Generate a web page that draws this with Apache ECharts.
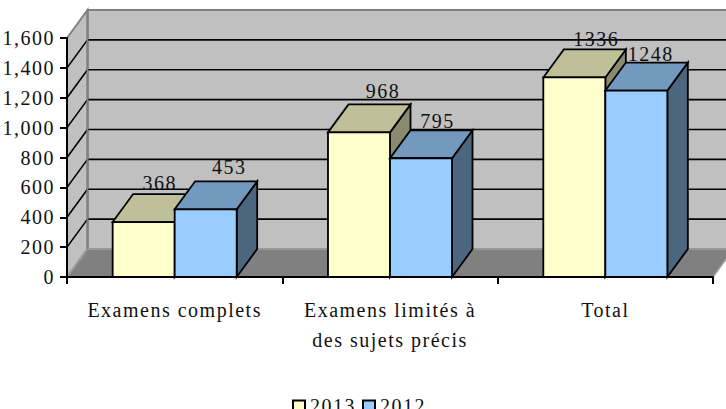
<!DOCTYPE html>
<html>
<head>
<meta charset="utf-8">
<style>
html,body{margin:0;padding:0;background:#fff;overflow:hidden}
#c{width:726px;height:409px}
#c text{letter-spacing:1.5px}
</style>
<script src="https://cdn.jsdelivr.net/npm/echarts@6/dist/echarts.min.js"></script>
</head>
<body>
<div id="c"></div>
<script>
const categories = ['Examens complets', 'Examens limités à\ndes sujets précis', 'Total'];
const values2013 = [368, 968, 1336];
const values2012 = [453, 795, 1248];
const yTicks = [0, 200, 400, 600, 800, 1000, 1200, 1400, 1600];

const FONT = '"Liberation Serif","Times New Roman",serif';
const DX = 20.5, DY = -28, BAR_FRAC = 0.288;
// fine placement of each value label relative to the back-top centre of its bar
const labelNudge2013 = [[-4.5, -11.5], [3.5, -13.5], [1.5, -10.5]];
const labelNudge2012 = [[3, -14.5], [-4, -9], [-6, -8.5]];

function poly(points, fill, stroke, lw) {
  return {type: 'polygon', shape: {points}, style: {fill, stroke, lineWidth: lw, lineJoin: 'miter'}};
}
function line(x1, y1, x2, y2, stroke, lw) {
  return {type: 'line', shape: {x1, y1, x2, y2}, style: {stroke, lineWidth: lw}};
}

function renderWalls(params, api) {
  const cs = params.coordSys;
  const L = cs.x, R = cs.x + cs.width, B = cs.y + cs.height, T = cs.y;
  const ch = [
    poly([[L + DX, T + DY], [R + DX, T + DY], [R + DX, B + DY], [L + DX, B + DY]], '#c0c0c0', '#808080', 2),
    poly([[L, T], [L + DX, T + DY], [L + DX, B + DY], [L, B]], '#c0c0c0', '#808080', 2),
    poly([[L, B], [L + DX, B + DY], [R + DX, B + DY], [R, B]], '#808080', '#a0a0a0', 1.5)
  ];
  yTicks.slice(1, -1).forEach(v => {
    const y = api.coord([0, v])[1];
    ch.push(line(L, y, L + DX, y + DY, '#000', 1.6));
    ch.push(line(L + DX, y + DY, R + DX, y + DY, '#000', 1.6));
  });
  ch.push(line(L + DX, T + DY, L + DX, B + DY, '#808080', 2));
  return {type: 'group', children: ch};
}

function makeBar(side, front, top, dark, nudges) {
  return function (params, api) {
    const i = api.value(0), v = api.value(1);
    const base = api.coord([i, 0]), head = api.coord([i, v]);
    const w = api.size([1, 0])[0] * BAR_FRAC;
    const x0 = base[0] + side * w, x1 = x0 + w, yB = base[1], yT = head[1];
    const n = nudges[params.dataIndex];
    return {type: 'group', children: [
      poly([[x1, yB], [x1 + DX, yB + DY], [x1 + DX, yT + DY], [x1, yT]], dark, '#000', 1.8),
      poly([[x0, yT], [x0 + DX, yT + DY], [x1 + DX, yT + DY], [x1, yT]], top, '#000', 1.8),
      poly([[x0, yB], [x0, yT], [x1, yT], [x1, yB]], front, '#000', 1.8),
      {type: 'text', z2: 10, style: {
        text: String(v), x: (x0 + x1) / 2 + DX + n[0], y: yT + DY + n[1],
        align: 'center', verticalAlign: 'middle', fill: '#111', font: '20px ' + FONT
      }}
    ]};
  };
}

const chart = echarts.init(document.getElementById('c'), null, {renderer: 'svg', width: 726, height: 409});
chart.setOption({
  animation: false,
  backgroundColor: '#fff',
  textStyle: {fontFamily: FONT},
  grid: {left: 67, right: 13, top: 38, bottom: 132, containLabel: false},
  xAxis: {
    type: 'category', data: categories, z: 1,
    axisLine: {onZero: false, lineStyle: {color: '#000', width: 2}},
    axisTick: {show: true, alignWithLabel: false, length: 7, lineStyle: {color: '#000', width: 2}},
    axisLabel: {color: '#111', fontSize: 20, fontFamily: FONT, margin: 18, lineHeight: 30, interval: 0}
  },
  yAxis: {
    type: 'value', min: 0, max: 1600, interval: 200, z: 1,
    axisLine: {show: true, lineStyle: {color: '#000', width: 2}},
    axisTick: {show: true, length: 7, lineStyle: {color: '#000', width: 2}},
    axisLabel: {color: '#111', fontSize: 20, fontFamily: FONT, margin: 12},
    splitLine: {show: false}
  },
  legend: {
    data: ['2013', '2012'], left: 287, top: 391, itemWidth: 12, itemHeight: 11, itemGap: 12,
    icon: 'rect', selectedMode: false,
    textStyle: {color: '#111', fontSize: 20, fontFamily: FONT, padding: [0, 0, 0, 0]},
    itemStyle: {borderColor: '#000', borderWidth: 2}
  },
  series: [
    {name: 'walls', type: 'custom', z: 0, silent: true, clip: false, renderItem: renderWalls, data: [[0, 0]]},
    {name: '2013', type: 'custom', z: 2, silent: true, clip: false,
     itemStyle: {color: '#FFFFCC', borderColor: '#000', borderWidth: 2},
     renderItem: makeBar(-1, '#FFFFCC', '#BFBF99', '#8A8A6E', labelNudge2013),
     encode: {x: 0, y: 1}, data: values2013.map((v, i) => [i, v])},
    {name: '2012', type: 'custom', z: 3, silent: true, clip: false,
     itemStyle: {color: '#99CCFF', borderColor: '#000', borderWidth: 2},
     renderItem: makeBar(0, '#99CCFF', '#7399BF', '#4D6680', labelNudge2012),
     encode: {x: 0, y: 1}, data: values2012.map((v, i) => [i, v])}
  ]
});
</script>
</body>
</html>
